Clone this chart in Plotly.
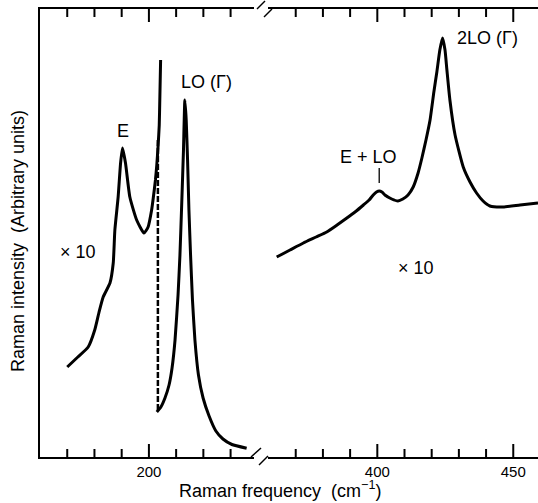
from __future__ import annotations

import plotly.graph_objects as go

# ---- data (x in cm^-1, y in arbitrary units) ----

# x10 trace, low-frequency side up to the dashed cut
scaled_freq = [170.0, 173.9, 177.7, 180.1, 181.7, 183.2, 185.7, 186.9, 187.5, 188.7,
               189.6, 190.3, 191.4, 193.0, 195.5, 198.2, 199.7, 201.0, 201.6, 202.4,
               202.9, 203.4, 203.8, 204.0, 204.3]
scaled_int = [90, 100, 110, 127, 145, 160, 174, 194, 227, 260,
              294, 309, 294, 260, 237, 224, 230, 247, 259, 277,
              292, 312, 332, 357, 397]

# dashed drop where the x10 trace is cut off
cut_freq = [203.3, 203.3]
cut_int = [317, 45]

# unscaled LO(Gamma) line
lo_freq = [202.9, 204.4, 205.9, 207.4, 208.5, 209.6, 210.7, 211.4, 212.1, 212.7,
           213.2, 213.7, 214.2, 214.7, 215.3, 216.0, 216.9, 218.2, 219.9, 222.1,
           224.6, 227.2, 230.5, 235.9]
lo_int = [45, 50, 59, 72, 89, 117, 162, 202, 257, 307,
          357, 337, 297, 247, 202, 157, 117, 82, 59, 41,
          26, 18, 12.5, 8.7]

# second-order region (x10)
second_freq = [363.0, 367.9, 372.8, 377.5, 381.4, 385.2, 388.8, 391.8, 394.9, 397.0,
               398.5, 399.7, 400.7, 401.7, 402.8, 405.3, 407.6, 409.4, 411.3, 413.2,
               415.0, 416.4, 417.9, 419.4, 420.8, 421.9, 423.0, 424.0, 424.9, 425.6,
               426.7, 428.6, 431.6, 434.1, 436.5, 438.9, 441.4, 446.3, 452.5, 459.1]
second_int = [200, 207, 214, 220, 225, 232, 239, 245, 252, 257,
              262, 265, 266, 265, 262, 258, 256, 258, 262, 270,
              284, 299, 317, 337, 365, 385, 407, 419, 407, 387,
              357, 322, 290, 275, 264, 256, 251, 250, 252, 254]

left_ticks = [170, 180, 190, 200, 210, 220, 230]
left_labelled = [200]
right_ticks = [370, 380, 390, 400, 410, 420, 430, 440, 450]
right_labelled = [400, 450]

FONT = "Liberation Sans, Arial, Helvetica, sans-serif"
INK = "black"
PLOT_H = 448  # plot area height in px; the y axis runs 0..PLOT_H


def _x_axis(domain, rng, labelled):
    return dict(
        domain=domain,
        range=rng,
        anchor="y",
        showline=True,
        linecolor=INK,
        linewidth=1.5,
        mirror=True,
        ticks="",
        tickmode="array",
        tickvals=labelled,
        ticktext=[str(v) for v in labelled],
        tickfont=dict(size=15, family=FONT, color=INK),
        showgrid=False,
        zeroline=False,
        fixedrange=True,
    )


def _paper(px: float, py: float) -> tuple[float, float]:
    # pixel position in the 538x503 page -> paper coordinates of the plot area
    return (px - 40) / 498, (457 - py) / PLOT_H


def _tick_trace(xaxis: str, vals, labelled) -> go.Scatter:
    # inward ticks on bottom and top edges; labelled values get longer ticks
    xs, ys = [], []
    for v in vals:
        h = 13 if v in labelled else 8
        xs += [v, v, None, v, v, None]
        ys += [0, h, None, PLOT_H, PLOT_H - h, None]
    return go.Scatter(x=xs, y=ys, mode="lines", line=dict(color=INK, width=2),
                      xaxis=xaxis, yaxis="y", hoverinfo="skip")


fig = go.Figure()
line = dict(color=INK, width=3)
fig.add_trace(go.Scatter(x=scaled_freq, y=scaled_int, mode="lines", line=dict(line, shape="spline", smoothing=0.5),
                         xaxis="x", yaxis="y"))
fig.add_trace(go.Scatter(x=cut_freq, y=cut_int, mode="lines",
                         line=dict(color=INK, width=2.5, dash="6px,2px"), xaxis="x", yaxis="y"))
fig.add_trace(go.Scatter(x=lo_freq, y=lo_int, mode="lines", line=dict(line, shape="spline", smoothing=0.4),
                         xaxis="x", yaxis="y"))
fig.add_trace(go.Scatter(x=second_freq, y=second_int, mode="lines", line=dict(line, shape="spline", smoothing=0.5),
                         xaxis="x2", yaxis="y"))
fig.add_trace(_tick_trace("x", left_ticks, left_labelled))
fig.add_trace(_tick_trace("x2", right_ticks, right_labelled))

# axis break marks
shapes = []
for (a, b) in [((251, 457), (261, 448)), ((259, 465), (268, 456)),
               ((257, 9), (265, 1)), ((264, 17), (272, 9))]:
    x0, y0 = _paper(*a)
    x1, y1 = _paper(*b)
    shapes.append(dict(type="line", xref="paper", yref="paper", x0=x0, y0=y0, x1=x1, y1=y1,
                       line=dict(color=INK, width=1.5)))
# marker tick under E + LO
shapes.append(dict(type="line", xref="x2", yref="y", x0=400.7, x1=400.7, y0=274, y1=289,
                   line=dict(color=INK, width=1.3)))

label_font = dict(family=FONT, size=18, color=INK)
annotations = [
    dict(x=190.3, y=326, xref="x", yref="y", text="E"),
    dict(x=221.3, y=375, xref="x", yref="y", text="LO (Γ)"),
    dict(x=173.9, y=205, xref="x", yref="y", text="× 10"),
    dict(x=396.6, y=300, xref="x2", yref="y", text="E + LO"),
    dict(x=440.5, y=419, xref="x2", yref="y", text="2LO (Γ)"),
    dict(x=414.2, y=189, xref="x2", yref="y", text="× 10"),
]
for a in annotations:
    a.update(showarrow=False, font=label_font, xanchor="center", yanchor="middle")

tx, ty = _paper(280, 489)
annotations.append(dict(x=tx, y=ty, xref="paper", yref="paper", showarrow=False,
                        text="Raman frequency  (cm<sup>−1</sup>)", font=dict(family=FONT, size=18, color=INK),
                        xanchor="center", yanchor="middle"))
yx, yy = _paper(18, 241)
annotations.append(dict(x=yx, y=yy, xref="paper", yref="paper", showarrow=False, textangle=-90,
                        text="Raman intensity  (Arbitrary units)", font=dict(family=FONT, size=18, color=INK),
                        xanchor="center", yanchor="middle"))

fig.update_layout(
    width=538,
    height=503,
    autosize=False,
    margin=dict(l=40, r=0, t=9, b=46),
    paper_bgcolor="white",
    plot_bgcolor="white",
    showlegend=False,
    font=dict(family=FONT, color=INK),
    xaxis=_x_axis([0, (254 - 40) / 498], [160, 238.6], left_labelled),
    xaxis2=_x_axis([(268 - 40) / 498, 1], [359.8, 459.1], right_labelled),
    yaxis=dict(range=[0, PLOT_H], showline=True, linecolor=INK, linewidth=1.5, ticks="",
               showticklabels=False, showgrid=False, zeroline=False, fixedrange=True),
    shapes=shapes,
    annotations=annotations,
)

# the page body has a default 8px margin; drop it so the figure sits at the corner
fig.write_html("out.html", config={"displayModeBar": False},
               post_script="document.body.style.margin='0';")
